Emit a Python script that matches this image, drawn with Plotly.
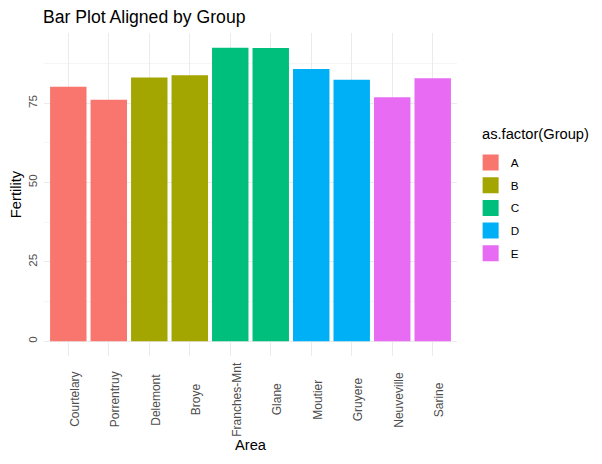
import plotly.graph_objects as go

areas = ["Courtelary", "Porrentruy", "Delemont", "Broye", "Franches-Mnt",
         "Glane", "Moutier", "Gruyere", "Neuveville", "Sarine"]
fertility = [80.2, 76.1, 83.1, 83.8, 92.5, 92.4, 85.8, 82.4, 76.9, 82.9]
groups = ["A", "A", "B", "B", "C", "C", "D", "D", "E", "E"]
group_names = ["A", "B", "C", "D", "E"]
colors = ["#F8766D", "#A3A500", "#00BF7D", "#00B0F6", "#E76BF3"]

fig = go.Figure()
for g, c in zip(group_names, colors):
    xs = [a for a, gg in zip(areas, groups) if gg == g]
    ys = [f for f, gg in zip(fertility, groups) if gg == g]
    fig.add_trace(go.Bar(x=xs, y=ys, name=g, legendgroup=g, showlegend=False,
                         marker=dict(color=c, line=dict(width=0)), width=0.9))
    # legend key (square swatch, like ggplot)
    fig.add_trace(go.Scatter(x=[None], y=[None], mode="markers", name=g, legendgroup=g,
                             marker=dict(symbol="square", size=20, color=c,
                                         line=dict(width=0))))

annots = [dict(text="as.factor(Group)", xref="paper", yref="paper",
               x=1.056, y=0.686, xanchor="left", yanchor="middle",
               showarrow=False, font=dict(size=14.7, color="black"))]
for a in areas:
    annots.append(dict(text=a, xref="x", yref="paper", x=a, y=-0.1347,
                       xanchor="center", yanchor="middle", textangle=-90,
                       xshift=6, showarrow=False,
                       font=dict(size=12, color="#4D4D4D")))

# page has an 8px body margin; compensate in figure margins
fig.update_layout(
    width=602, height=464,
    margin=dict(l=36, r=153, t=25, b=116, autoexpand=False),
    paper_bgcolor="white", plot_bgcolor="white",
    font=dict(family="Liberation Sans, Arial, sans-serif", color="black"),
    barmode="overlay",
    title=dict(text="Bar Plot Aligned by Group", x=35/602, xanchor="left",
               y=1 - 9/464, yanchor="middle", font=dict(size=17.6, color="black")),
    legend=dict(x=1.033, xanchor="left", y=0.644, yanchor="top",
                font=dict(size=11.7), tracegroupgap=3.7, itemwidth=30),
    showlegend=True,
    annotations=annots,
)
fig.update_xaxes(
    type="category", categoryorder="array", categoryarray=areas,
    range=[-0.6, 9.6], showgrid=True, gridcolor="#EBEBEB", gridwidth=1,
    showticklabels=False, ticks="", zeroline=False,
    showline=False, automargin=False,
    title=dict(text="Area", font=dict(size=14.7), standoff=83),
)
fig.update_yaxes(
    range=[-4.625, 97.125], tickvals=[0, 25, 50, 75], showgrid=True,
    gridcolor="#EBEBEB", gridwidth=1, zeroline=False, showline=False,
    minor=dict(tickvals=[12.5, 37.5, 62.5, 87.5], showgrid=True, gridcolor="#F5F5F5", gridwidth=0.6),
    tickangle=-90, tickfont=dict(size=11.7, color="#4D4D4D"), ticks="", automargin=False,
    ticklabelstandoff=4,
    title=dict(text="Fertility", font=dict(size=14.7), standoff=14),
)

fig.write_html("out.html")
